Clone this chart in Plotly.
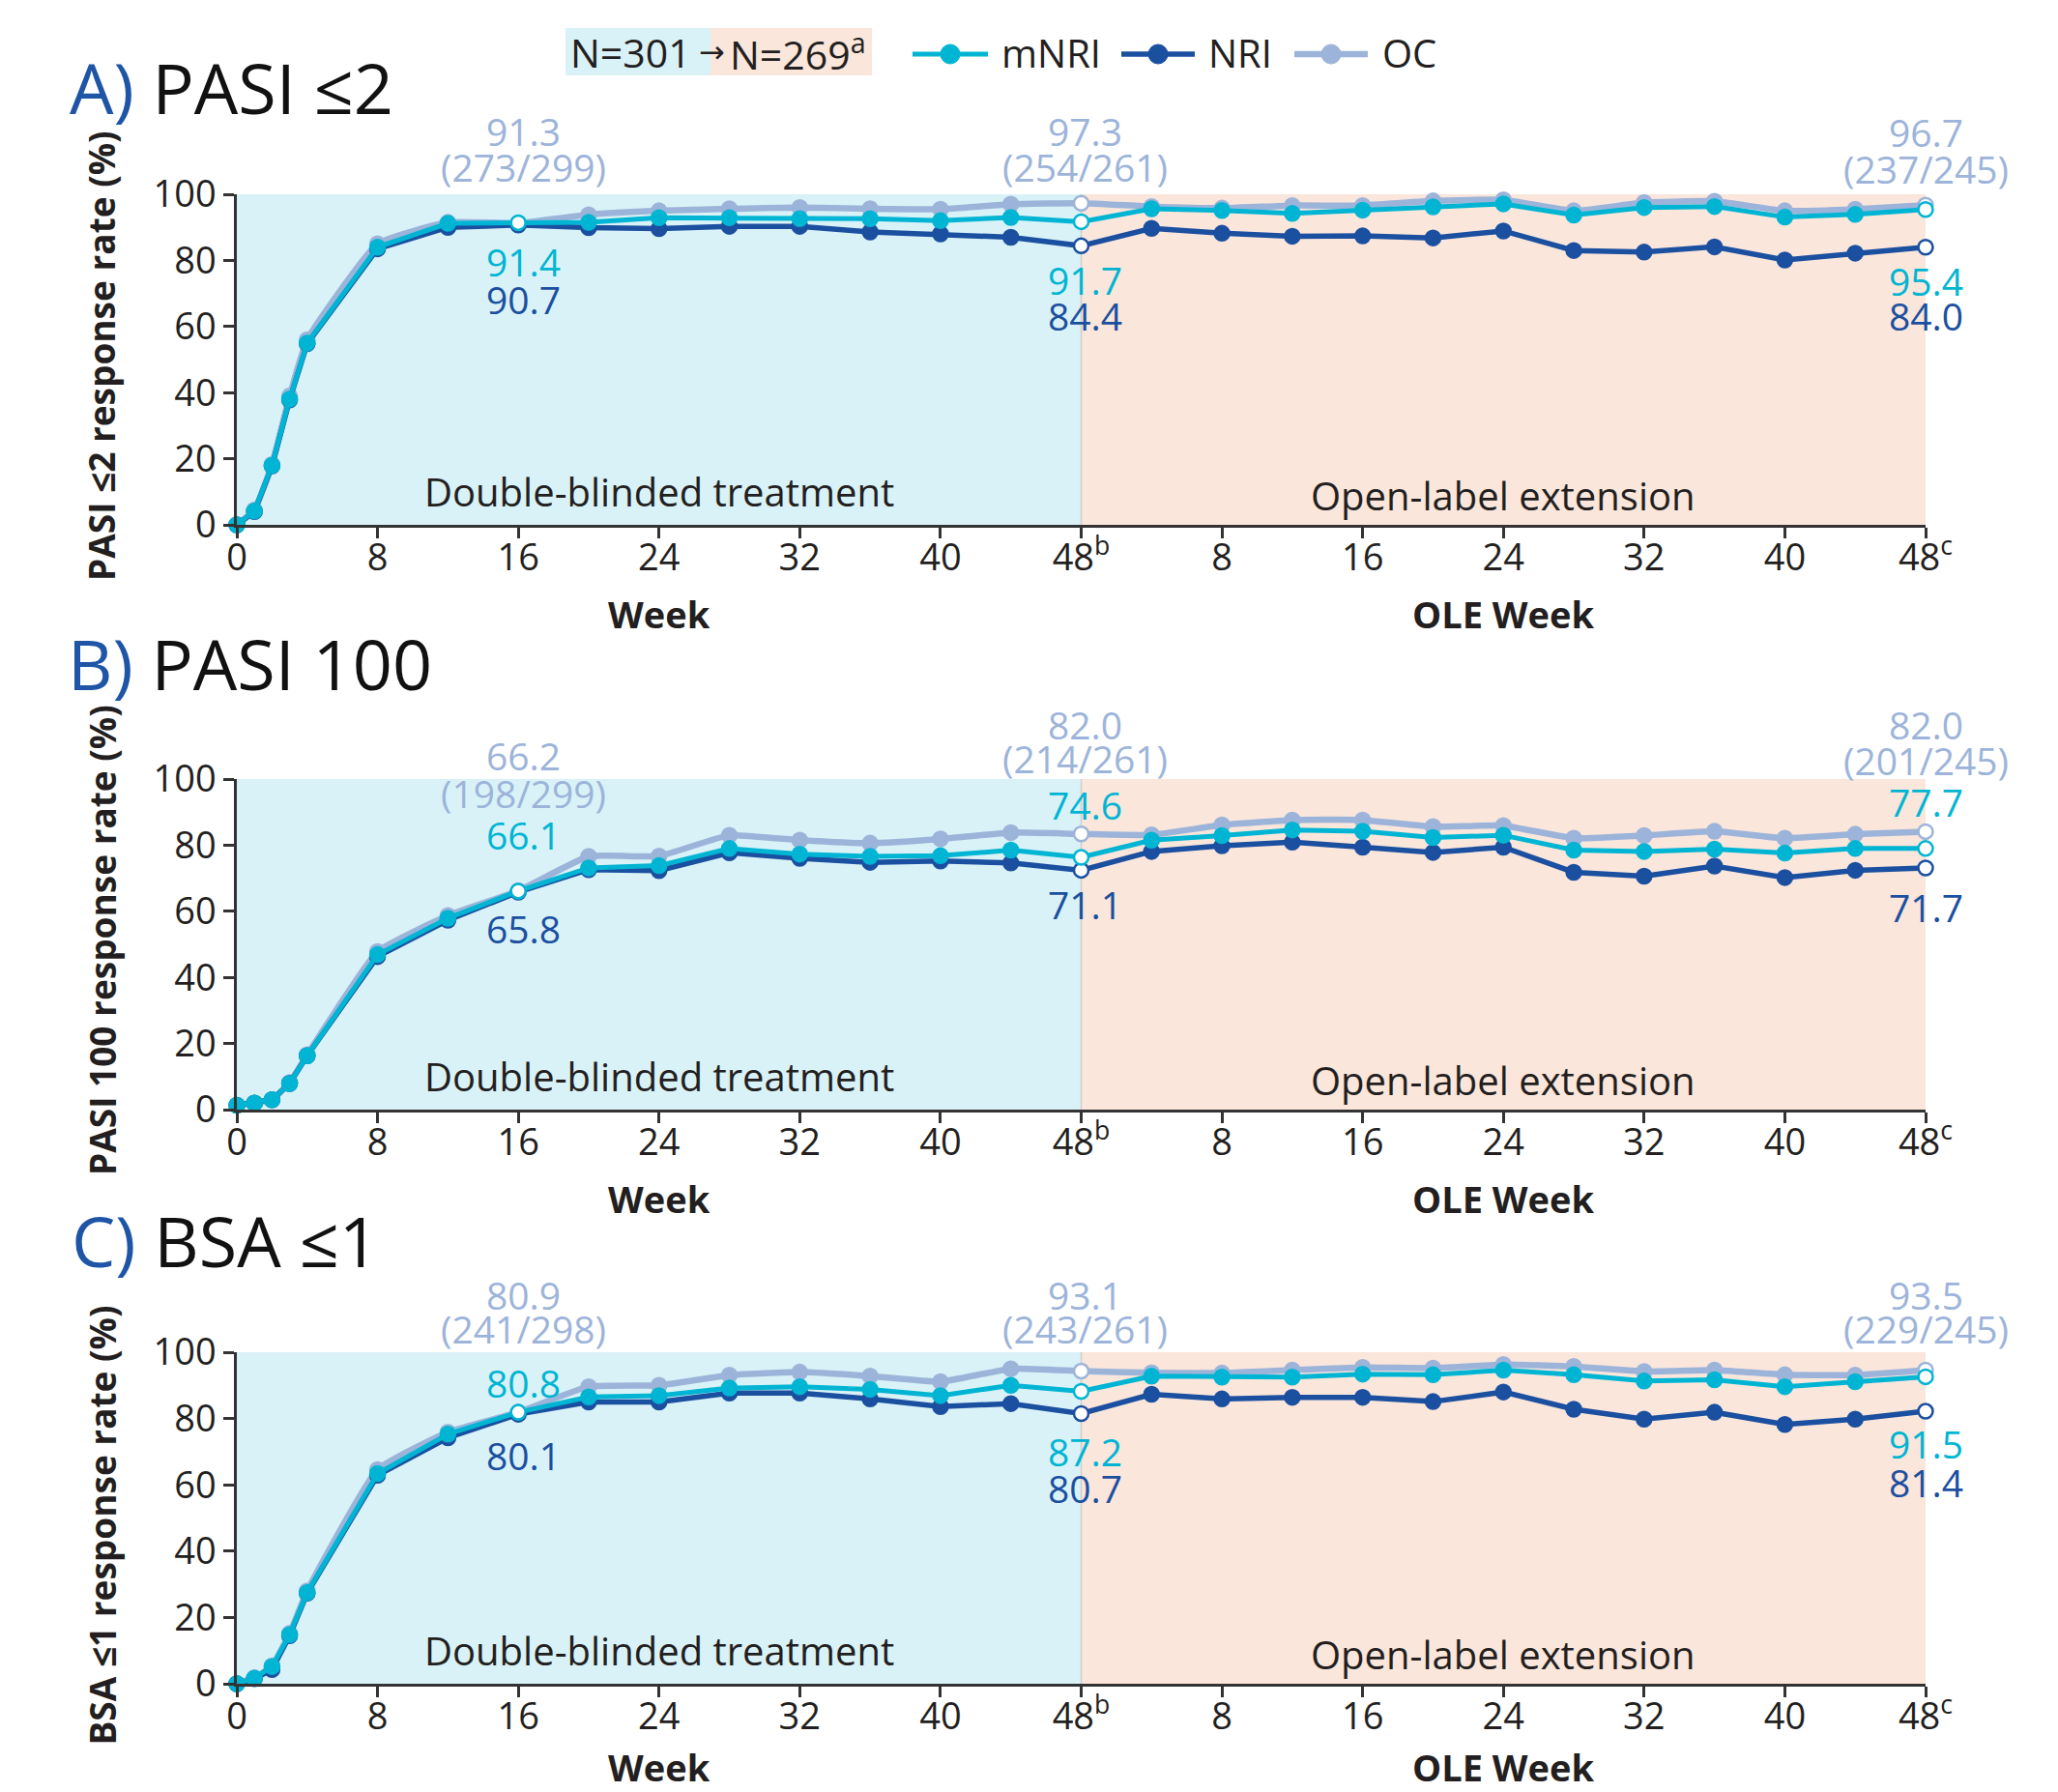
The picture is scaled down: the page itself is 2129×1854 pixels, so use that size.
import plotly.graph_objects as go

# ---------------- data ----------------
weeks_db = [0, 1, 2, 3, 4, 8, 12, 16, 20, 24, 28, 32, 36, 40, 44, 48]
weeks_ole = [4, 8, 12, 16, 20, 24, 28, 32, 36, 40, 44, 48]

x_tick_vals = [0, 8, 16, 24, 32, 40, 48, 56, 64, 72, 80, 88, 96]
x_tick_text = ["0", "8", "16", "24", "32", "40", "48<sup>b</sup>",
               "8", "16", "24", "32", "40", "48<sup>c</sup>"]
y_tick_vals = [0, 20, 40, 60, 80, 100]

# Panel A: PASI <=2
mnri_a_db = [0, 4.2, 18, 38, 55, 84, 91.2, 91.4, 91.5, 92.9, 92.9, 92.6, 92.6, 92.0, 93.0, 91.7]
mnri_a_ole = [95.6, 95.1, 94.2, 95.2, 96.2, 97.1, 93.7, 96.0, 96.3, 93.1, 93.9, 95.4]
nri_a_db = [0, 4.0, 17.8, 37.8, 54.8, 83.5, 90.0, 90.7, 89.9, 89.6, 90.3, 90.3, 88.6, 88.0, 87.0, 84.4]
nri_a_ole = [89.7, 88.2, 87.3, 87.4, 86.8, 88.9, 83.0, 82.5, 84.1, 80.1, 82.2, 84.0]
oc_a_db = [0, 4.5, 18.3, 39, 56, 85, 91.5, 91.3, 93.8, 95.0, 95.6, 96.0, 95.6, 95.5, 97.0, 97.3]
oc_a_ole = [96.3, 95.8, 96.6, 96.6, 98.0, 98.3, 95.0, 97.5, 97.9, 95.0, 95.5, 96.7]

# Panel B: PASI 100
mnri_b_db = [1.3, 2.0, 3.0, 7.9, 16.3, 46.9, 57.9, 66.1, 73.1, 73.8, 79.0, 77.3, 76.6, 76.8, 78.5, 76.3]
mnri_b_ole = [81.5, 82.9, 84.6, 84.2, 82.3, 83.0, 78.5, 78.1, 78.8, 77.6, 79.0, 79.0]
nri_b_db = [1.3, 2.0, 3.0, 7.9, 16.3, 46.3, 57.3, 65.8, 72.6, 72.3, 77.7, 76.0, 74.8, 75.2, 74.6, 72.4]
nri_b_ole = [78.1, 79.8, 80.9, 79.4, 77.8, 79.4, 71.8, 70.6, 73.7, 70.2, 72.4, 73.1]
oc_b_db = [1.3, 2.0, 3.0, 8.2, 16.6, 47.8, 58.7, 66.2, 76.6, 76.7, 83.0, 81.5, 80.6, 81.9, 83.8, 83.4]
oc_b_ole = [83.1, 86.1, 87.6, 87.6, 85.6, 85.9, 82.1, 82.9, 84.2, 82.1, 83.3, 84.1]

# Panel C: BSA <=1
mnri_c_db = [0, 1.7, 5.2, 14.8, 27.5, 63.4, 75.3, 81.9, 86.5, 86.9, 89.2, 89.6, 88.8, 86.9, 90.0, 88.2]
mnri_c_ole = [92.8, 92.5, 92.5, 93.4, 93.2, 94.6, 93.2, 91.3, 91.7, 89.6, 91.1, 92.6]
nri_c_db = [0, 1.5, 4.3, 14.5, 27.3, 62.9, 74.2, 81.3, 85.0, 85.0, 87.7, 87.7, 85.9, 83.6, 84.5, 81.5]
nri_c_ole = [87.3, 85.9, 86.4, 86.4, 85.1, 88.0, 82.8, 79.8, 81.9, 78.2, 79.8, 82.2]
oc_c_db = [0, 1.8, 5.4, 15.2, 28.0, 64.6, 75.9, 81.9, 89.6, 90.0, 93.1, 94.0, 92.8, 91.1, 95.0, 94.3]
oc_c_ole = [93.8, 93.7, 94.6, 95.4, 95.2, 96.3, 95.7, 94.2, 94.6, 93.2, 93.1, 94.6]

# value labels: (week16, 48b, 48c)
oc_labels_a = [("91.3", "(273/299)"), ("97.3", "(254/261)"), ("96.7", "(237/245)")]
mnri_labels_a = ["91.4", "91.7", "95.4"]
nri_labels_a = ["90.7", "84.4", "84.0"]
oc_labels_b = [("66.2", "(198/299)"), ("82.0", "(214/261)"), ("82.0", "(201/245)")]
mnri_labels_b = ["66.1", "74.6", "77.7"]
nri_labels_b = ["65.8", "71.1", "71.7"]
oc_labels_c = [("80.9", "(241/298)"), ("93.1", "(243/261)"), ("93.5", "(229/245)")]
mnri_labels_c = ["80.8", "87.2", "91.5"]
nri_labels_c = ["80.1", "80.7", "81.4"]

panel_letters = ["A)", "B)", "C)"]
panel_names = ["PASI \u22642", "PASI 100", "BSA \u22641"]
y_titles = ["PASI \u22642 response rate (%)", "PASI 100 response rate (%)", "BSA \u22641 response rate (%)"]
series_names = ["OC", "NRI", "mNRI"]

# ---------------- styles ----------------
OFF = 8                      # page body margin of the html page
W, H = 2129 - OFF, 1854 - OFF
C_MNRI = "#00B5D3"
C_NRI = "#1B4FA0"
C_OC = "#9DB4DA"
C_DB = "#D9F2F7"
C_OLE = "#FAE6DB"
C_TXT = "#231F20"
C_AX = "#333333"
C_LETTER = "#1E55A6"
FONT = "Open Sans, Noto Sans, DejaVu Sans, sans-serif"

series_color = {"OC": C_OC, "NRI": C_NRI, "mNRI": C_MNRI}
series_lw = {"OC": 6.5, "NRI": 5.5, "mNRI": 5}
series_ms = {"OC": 15, "NRI": 15, "mNRI": 15}


def px_x(x):
    return (x - OFF) / W


def px_y(y):
    return 1 - (y - OFF) / H


x_left, x_right = 245, 1992
panel_px = [(201, 543), (806, 1148), (1399, 1742)]  # (top y for 100, bottom y for 0)

panels = [
    {"mNRI": (mnri_a_db, mnri_a_ole), "NRI": (nri_a_db, nri_a_ole), "OC": (oc_a_db, oc_a_ole),
     "oc_lab": oc_labels_a, "mnri_lab": mnri_labels_a, "nri_lab": nri_labels_a},
    {"mNRI": (mnri_b_db, mnri_b_ole), "NRI": (nri_b_db, nri_b_ole), "OC": (oc_b_db, oc_b_ole),
     "oc_lab": oc_labels_b, "mnri_lab": mnri_labels_b, "nri_lab": nri_labels_b},
    {"mNRI": (mnri_c_db, mnri_c_ole), "NRI": (nri_c_db, nri_c_ole), "OC": (oc_c_db, oc_c_ole),
     "oc_lab": oc_labels_c, "mnri_lab": mnri_labels_c, "nri_lab": nri_labels_c},
]

# label layout (pixel y centers of value labels): [oc1, oc2, mnri, nri] for each of 3 positions
label_px = [
    [(135, 173, 270, 310), (135, 173, 289, 326), (137, 174, 291, 327)],
    [(781, 821, 863, 960), (749, 784, 832, 936), (749, 786, 830, 938)],
    [(1339, 1374, 1430, 1505), (1339, 1374, 1501, 1539), (1339, 1374, 1493, 1533)],
]
label_x = [16.3, 48.2, 96]
title_px = [(70, 90), (68, 686), (72, 1283)]
xtitle_shift = [92, 92, 86]

x_all = weeks_db + [48 + w for w in weeks_ole]
open_x = {16, 48, 96}

fig = go.Figure()
shapes = []
annotations = []

for i, p in enumerate(panels):
    k = "" if i == 0 else str(i + 1)
    xa, ya = "x" + k, "y" + k
    top, bot = panel_px[i]
    for name in series_names:
        db, ole = p[name]
        yv = list(db) + list(ole)
        col = series_color[name]
        fills = ["white" if xx in open_x else col for xx in x_all]
        fig.add_trace(go.Scatter(
            x=x_all, y=yv, xaxis=xa, yaxis=ya, mode="lines+markers", name=name,
            showlegend=False, cliponaxis=False,
            line=dict(color=col, width=series_lw[name], shape="spline" if name == "OC" else "linear",
                      smoothing=0.4),
            marker=dict(size=series_ms[name], color=fills, line=dict(color=col, width=2.5)),
        ))
    # background shading
    shapes.append(dict(type="rect", xref=xa, yref=ya, x0=0, x1=48, y0=0, y1=100,
                       fillcolor=C_DB, line=dict(width=0), layer="below"))
    shapes.append(dict(type="rect", xref=xa, yref=ya, x0=48, x1=96, y0=0, y1=100,
                       fillcolor=C_OLE, line=dict(width=0), layer="below"))
    shapes.append(dict(type="line", xref=xa, yref=ya, x0=48, x1=48, y0=0, y1=100,
                       line=dict(color="#CFCFCF", width=1.5), layer="below"))

    # axes
    fig.layout["xaxis" + k] = dict(
        domain=[px_x(x_left), px_x(x_right)], range=[0, 96], anchor=ya, automargin=False,
        tickmode="array", tickvals=x_tick_vals, ticktext=x_tick_text,
        ticks="outside", ticklen=11, tickwidth=2.5, tickcolor=C_AX, ticklabelstandoff=-13,
        showline=True, linecolor=C_AX, linewidth=3, showgrid=False, zeroline=False,
        tickfont=dict(size=38, color=C_TXT, family=FONT), fixedrange=True)
    fig.layout["yaxis" + k] = dict(
        domain=[px_y(bot), px_y(top)], range=[0, 100], anchor=xa, automargin=False,
        tickmode="array", tickvals=y_tick_vals,
        ticks="outside", ticklen=11, tickwidth=2.5, tickcolor=C_AX,
        showline=True, linecolor=C_AX, linewidth=2.5, showgrid=False, zeroline=False,
        tickfont=dict(size=38, color=C_TXT, family=FONT), fixedrange=True)

    # region labels
    annotations.append(dict(x=24, y=10, xref=xa, yref=ya, text="Double-blinded treatment",
                            showarrow=False, font=dict(size=40, color=C_TXT, family=FONT)))
    annotations.append(dict(x=72, y=9, xref=xa, yref=ya, text="Open-label extension",
                            showarrow=False, font=dict(size=40, color=C_TXT, family=FONT)))
    # x axis titles
    for xx, txt in [(24, "Week"), (72, "OLE Week")]:
        annotations.append(dict(x=xx, y=px_y(bot + xtitle_shift[i]), xref=xa, yref="paper",
                                text="<b>" + txt + "</b>", showarrow=False, yanchor="middle",
                                font=dict(size=38, color=C_TXT, family=FONT)))
    # y axis title
    annotations.append(dict(x=px_x(105), y=px_y((top + bot) / 2 + (8 if i == 2 else -4)), xref="paper", yref="paper",
                            text="<b>" + y_titles[i] + "</b>", textangle=-90, showarrow=False,
                            xanchor="center", yanchor="middle",
                            font=dict(size=37, color=C_TXT, family=FONT)))
    # panel title
    tx, ty = title_px[i]
    annotations.append(dict(x=px_x(tx), y=px_y(ty), xref="paper", yref="paper", xanchor="left",
                            yanchor="middle", showarrow=False,
                            text="<span style='color:%s'>%s</span> %s" % (C_LETTER, panel_letters[i], panel_names[i]),
                            font=dict(size=72, color="#111111", family=FONT)))
    # value labels
    for j in range(3):
        o1, o2, m, n = label_px[i][j]
        lx = label_x[j]
        for txt, yy, col in [(p["oc_lab"][j][0], o1, C_OC), (p["oc_lab"][j][1], o2, C_OC),
                             (p["mnri_lab"][j], m, C_MNRI), (p["nri_lab"][j], n, C_NRI)]:
            annotations.append(dict(x=lx, y=px_y(yy), xref=xa, yref="paper", text=txt,
                                    showarrow=False, xanchor="center", yanchor="middle",
                                    font=dict(size=39, color=col, family=FONT)))

# ---------------- legend (top) ----------------
shapes.append(dict(type="rect", xref="paper", yref="paper", x0=px_x(585), x1=px_x(735),
                   y0=px_y(78), y1=px_y(29), fillcolor=C_DB, line=dict(width=0)))
shapes.append(dict(type="rect", xref="paper", yref="paper", x0=px_x(735), x1=px_x(902),
                   y0=px_y(78), y1=px_y(29), fillcolor=C_OLE, line=dict(width=0)))
annotations.append(dict(x=px_x(717), y=px_y(54), xref="paper", yref="paper", xanchor="right",
                        yanchor="middle", text="N=301", showarrow=False,
                        font=dict(size=41, color=C_TXT, family=FONT)))
annotations.append(dict(x=px_x(736), y=px_y(54), xref="paper", yref="paper", xanchor="center",
                        yanchor="middle", text="\u2192", showarrow=False,
                        font=dict(size=32, color=C_TXT, family="DejaVu Sans")))
annotations.append(dict(x=px_x(753), y=px_y(54), xref="paper", yref="paper", xanchor="left",
                        yanchor="middle", text="N=269<sup>a</sup>", showarrow=False,
                        font=dict(size=41, color=C_TXT, family=FONT)))

legend_items = [("mNRI", 944, 1022, 1034), ("NRI", 1160, 1236, 1248), ("OC", 1339, 1415, 1428)]
for name, lx0, lx1, tx in legend_items:
    col = series_color[name]
    shapes.append(dict(type="line", xref="paper", yref="paper", x0=px_x(lx0), x1=px_x(lx1),
                       y0=px_y(56), y1=px_y(56), line=dict(color=col, width=series_lw[name])))
    cx = (lx0 + lx1) / 2
    shapes.append(dict(type="circle", xref="paper", yref="paper", x0=px_x(cx - 10), x1=px_x(cx + 10),
                       y0=px_y(66), y1=px_y(46), fillcolor=col, line=dict(color=col, width=1)))
    annotations.append(dict(x=px_x(tx), y=px_y(54), xref="paper", yref="paper", xanchor="left",
                            yanchor="middle", text=name, showarrow=False,
                            font=dict(size=40, color=C_TXT, family=FONT)))

fig.update_layout(
    width=W, height=H, margin=dict(l=0, r=0, t=0, b=0, autoexpand=False),
    paper_bgcolor="white", plot_bgcolor="white",
    shapes=shapes, annotations=annotations, showlegend=False,
    font=dict(family=FONT, color=C_TXT),
)

fig.write_html("out.html")
